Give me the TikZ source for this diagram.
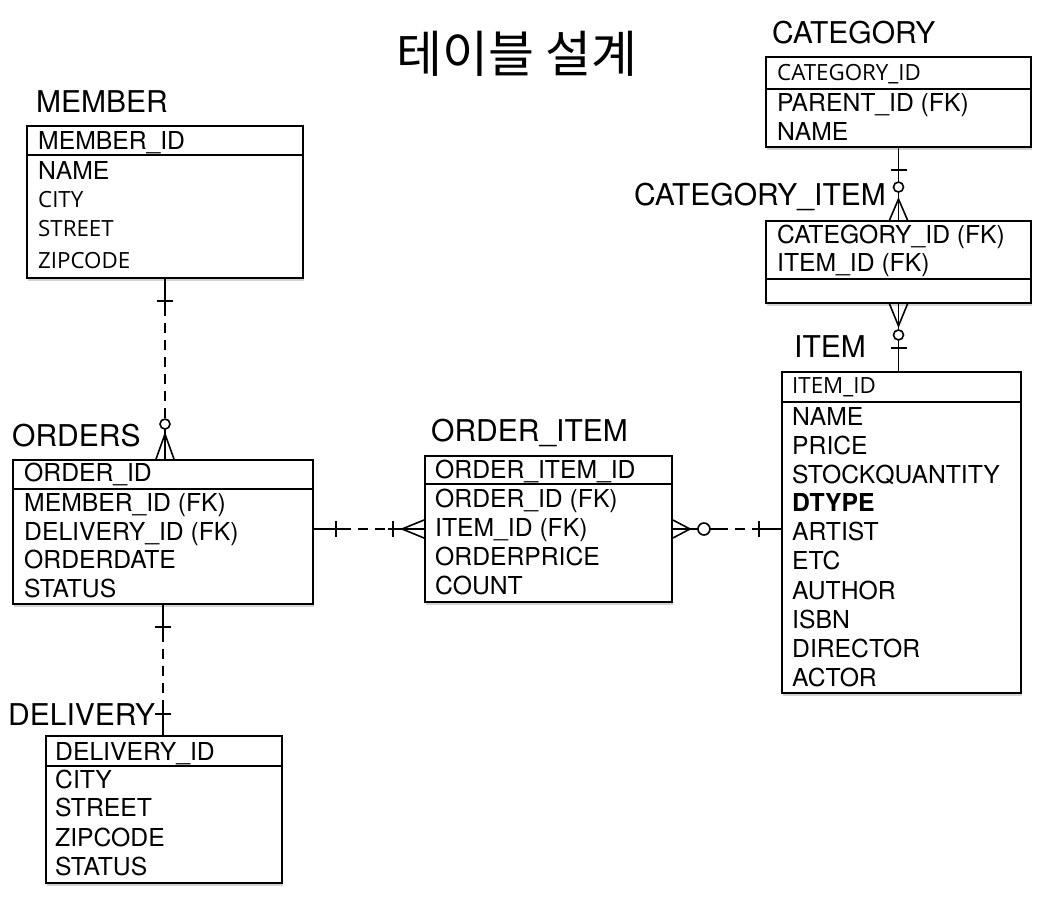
\documentclass[tikz,border=0pt]{standalone}
\usepackage{fontspec}
\setmainfont{TeX Gyre Heros}
\newfontfamily\lucida{Open Sans}
\newfontfamily\kr{Noto Sans CJK KR}
\usetikzlibrary{calc,fit,shadows}
\begin{document}
\begin{tikzpicture}[x=1pt,y=-1pt,
  tbl/.style={draw, line width=1.9pt, fill=white, inner sep=0pt,
    drop shadow={shadow xshift=1pt, shadow yshift=-2.5pt, opacity=0.35}},
  sepl/.style={line width=1.7pt},
  row/.style={anchor=base west, inner sep=0pt, font=\fontsize{24.7}{28}\selectfont},
  lrow/.style={anchor=base west, inner sep=0pt, font=\lucida\fontsize{22.3}{26}\selectfont},
  lbl/.style={anchor=base west, inner sep=0pt, font=\fontsize{30}{32}\selectfont},
  cn/.style={line width=1.6pt},
  dsh/.style={line width=1.6pt, dash pattern=on 10pt off 7pt}]
\useasboundingbox (0,0) rectangle (1047,898);

% title
\node[font=\kr\fontsize{50}{54}\selectfont, inner sep=0pt] (title) at (517,54) {테이블 설계};

% tables
\node[tbl, fit={(27,126) (303,278)}] (member) {};
\node[tbl, fit={(13,460) (313,604)}] (orders) {};
\node[tbl, fit={(425,456) (672,602)}] (oi) {};
\node[tbl, fit={(782,372) (1021,693)}] (item) {};
\node[tbl, fit={(766,57) (1031,147)}] (category) {};
\node[tbl, fit={(766,221) (1031,303)}] (ci) {};
\node[tbl, fit={(46,736) (282,883)}] (delivery) {};

\draw[sepl] (member.west |- 0,155) -- (member.east |- 0,155);
\draw[sepl] (orders.west |- 0,489) -- (orders.east |- 0,489);
\draw[sepl] (oi.west |- 0,484) -- (oi.east |- 0,484);
\draw[sepl] (item.west |- 0,402) -- (item.east |- 0,402);
\draw[sepl] (category.west |- 0,89) -- (category.east |- 0,89);
\draw[sepl] (ci.west |- 0,279) -- (ci.east |- 0,279);
\draw[sepl] (delivery.west |- 0,766) -- (delivery.east |- 0,766);

% labels
\node[lbl] (lmember) at (36,112.5) {MEMBER};
\node[lbl] (lorders) at (12,446.5) {ORDERS};
\node[lbl] (loi) at (431,441) {ORDER\_ITEM};
\node[lbl] (lcat) at (772,43) {CATEGORY};
\node[lbl] (lci) at (634,205) {CATEGORY\_ITEM};
\node[lbl] (litem) at (794,357) {ITEM};
\node[lbl] (ldel) at (8,725) {DELIVERY};

% MEMBER rows
\node[row] (m1) at (38,149.3) {MEMBER\_ID};
\node[row] (m2) at (38,179) {NAME};
\node[lrow] (m3) at (38,207.3) {CITY};
\node[lrow] (m4) at (38,236.3) {STREET};
\node[lrow] (m5) at (38,268) {ZIPCODE};

% ORDERS rows
\node[row] (o1) at (24,481.7) {ORDER\_ID};
\node[row] (o2) at (24,511) {MEMBER\_ID (FK)};
\node[row] (o3) at (24,540) {DELIVERY\_ID (FK)};
\node[row] (o4) at (24,568.5) {ORDERDATE};
\node[row] (o5) at (24,597) {STATUS};

% ORDER_ITEM rows
\node[row] (i1) at (435,478.3) {ORDER\_ITEM\_ID};
\node[row] (i2) at (435,507) {ORDER\_ID (FK)};
\node[row] (i3) at (435,536) {ITEM\_ID (FK)};
\node[row] (i4) at (435,565) {ORDERPRICE};
\node[row] (i5) at (435,594) {COUNT};

% ITEM rows
\node[lrow] (t1) at (792,393.3) {ITEM\_ID};
\node[row] (t2) at (792,425) {NAME};
\node[row] (t3) at (792,454) {PRICE};
\node[row] (t4) at (792,483) {STOCKQUANTITY};
\node[row, font=\bfseries\fontsize{24.7}{28}\selectfont] (t5) at (792,511.7) {DTYPE};
\node[row] (t6) at (792,540.7) {ARTIST};
\node[row] (t7) at (792,569.5) {ETC};
\node[row] (t8) at (792,599) {AUTHOR};
\node[row] (t9) at (792,628) {ISBN};
\node[row] (t10) at (792,657.5) {DIRECTOR};
\node[row] (t11) at (792,686.7) {ACTOR};

% CATEGORY rows
\node[lrow] (c1) at (777,80) {CATEGORY\_ID};
\node[row] (c2) at (777,111.7) {PARENT\_ID (FK)};
\node[row] (c3) at (777,140.3) {NAME};

% CATEGORY_ITEM rows
\node[row] (k1) at (777,243) {CATEGORY\_ID (FK)};
\node[row] (k2) at (777,271.7) {ITEM\_ID (FK)};

% DELIVERY rows
\node[row] (d1) at (55,760) {DELIVERY\_ID};
\node[row] (d2) at (55,788.3) {CITY};
\node[row] (d3) at (55,816.7) {STREET};
\node[row] (d4) at (55,846.5) {ZIPCODE};
\node[row] (d5) at (55,875) {STATUS};

% MEMBER -> ORDERS
\coordinate (mo1) at (member.south);
\coordinate (mo2) at (member.south |- orders.north);
\draw[cn] (mo1) -- ($(mo1)+(0,27)$);
\draw[cn] ($(mo1)+(-8,22)$) -- ($(mo1)+(8,22)$);
\draw[dsh] ($(mo1)+(0,27)$) -- ($(mo2)+(0,-40)$);
\draw[cn] ($(mo2)+(0,-35)$) circle (5);
\draw[cn] ($(mo2)+(0,-30)$) -- (mo2);
\draw[cn] ($(mo2)+(-9,0)$) -- ($(mo2)+(0,-25)$) -- ($(mo2)+(9,0)$);

% ORDERS -> ORDER_ITEM
\coordinate (oo1) at (orders.east |- oi.west);
\coordinate (oo2) at (oi.west);
\draw[cn] (oo1) -- ($(oo1)+(27,0)$);
\draw[cn] ($(oo1)+(22,-8)$) -- ($(oo1)+(22,8)$);
\draw[dsh] ($(oo1)+(27,0)$) -- ($(oo2)+(-36,0)$);
\draw[cn] ($(oo2)+(-36,0)$) -- (oo2);
\draw[cn] ($(oo2)+(-31,-8)$) -- ($(oo2)+(-31,8)$);
\draw[cn] ($(oo2)+(0,-9)$) -- ($(oo2)+(-22,0)$) -- ($(oo2)+(0,9)$);

% ORDER_ITEM -> ITEM
\coordinate (oi1) at (oi.east);
\coordinate (oi2) at (item.west |- oi.east);
\draw[cn] ($(oi1)+(0,-9)$) -- ($(oi1)+(17,0)$) -- ($(oi1)+(0,9)$);
\draw[cn] (oi1) -- ($(oi1)+(25,0)$);
\draw[cn] ($(oi1)+(31,0)$) circle (6);
\draw[cn] ($(oi1)+(37,0)$) -- ($(oi1)+(45,0)$);
\draw[dsh] ($(oi1)+(45,0)$) -- ($(oi2)+(-25,0)$);
\draw[cn] ($(oi2)+(-25,0)$) -- (oi2);
\draw[cn] ($(oi2)+(-22,-8)$) -- ($(oi2)+(-22,8)$);

% CATEGORY -> CATEGORY_ITEM
\coordinate (cc1) at (category.south);
\coordinate (cc2) at (category.south |- ci.north);
\draw[cn] (cc1) -- ($(cc2)+(0,-38)$);
\draw[cn] ($(cc1)+(-8,22)$) -- ($(cc1)+(8,22)$);
\draw[cn] ($(cc2)+(0,-33)$) circle (5);
\draw[cn] ($(cc2)+(0,-28)$) -- (cc2);
\draw[cn] ($(cc2)+(-9,0)$) -- ($(cc2)+(0,-21)$) -- ($(cc2)+(9,0)$);

% CATEGORY_ITEM -> ITEM
\coordinate (ki1) at (ci.south);
\coordinate (ki2) at (ci.south |- item.north);
\draw[cn] ($(ki1)+(-9,0)$) -- ($(ki1)+(0,22)$) -- ($(ki1)+(9,0)$);
\draw[cn] (ki1) -- ($(ki1)+(0,26)$);
\draw[cn] ($(ki1)+(0,31)$) circle (5);
\draw[cn] ($(ki1)+(0,36)$) -- (ki2);
\draw[cn] ($(ki2)+(-8,-23)$) -- ($(ki2)+(8,-23)$);

% ORDERS -> DELIVERY
\coordinate (od1) at (orders.south);
\coordinate (od2) at (orders.south |- delivery.north);
\draw[cn] (od1) -- ($(od1)+(0,27)$);
\draw[cn] ($(od1)+(-8,22)$) -- ($(od1)+(8,22)$);
\draw[dsh] ($(od1)+(0,27)$) -- ($(od2)+(0,-26)$);
\draw[cn] ($(od2)+(0,-26)$) -- (od2);
\draw[cn] ($(od2)+(-8,-21)$) -- ($(od2)+(8,-21)$);
\end{tikzpicture}
\end{document}
